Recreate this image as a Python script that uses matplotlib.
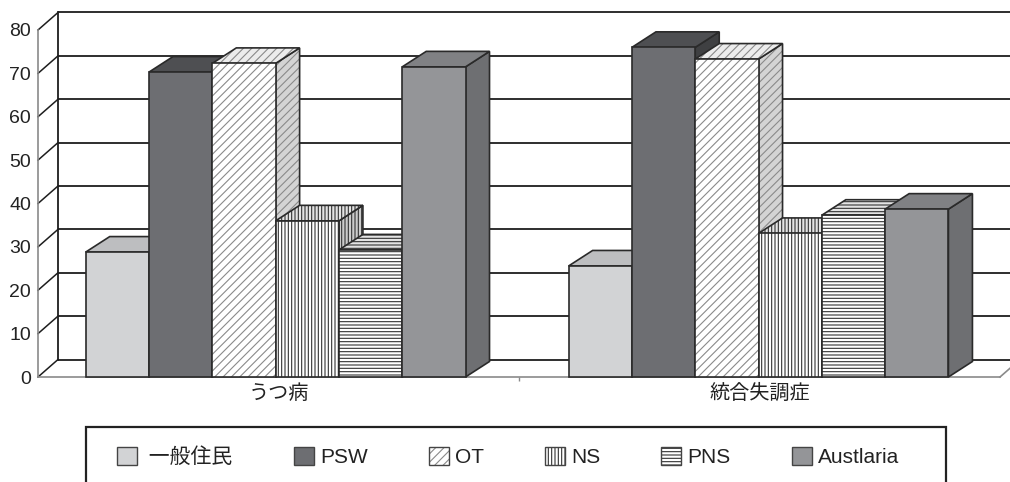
import matplotlib
matplotlib.use("Agg")
import matplotlib.pyplot as plt
from matplotlib.patches import Polygon, Rectangle, Patch

# ---- data -------------------------------------------------------------
categories = ["うつ病", "統合失調症"]
series_names = [" 一般住民", "PSW", "OT", "NS", "PNS", "Austlaria"]
general_public = [28.8, 25.6]
psw = [70.3, 76.0]
ot = [72.3, 73.3]
ns = [36.0, 33.1]
pns = [29.3, 37.3]
austlaria = [71.5, 38.7]
y_ticks = [0, 10, 20, 30, 40, 50, 60, 70, 80]

series_values = [general_public, psw, ot, ns, pns, austlaria]

# ---- styles: (front, top, side, hatch, hatch colour) ------------------
styles = [
    ("#d2d3d5", "#bdbec0", "#a7a8aa", None, None),
    ("#6d6e72", "#4e4f52", "#3f4042", None, None),
    ("#ffffff", "#ececec", "#d4d4d4", "////", "#8a8a8a"),
    ("#ffffff", "#e4e4e4", "#cccccc", "|||||", "#333333"),
    ("#ffffff", "#e4e4e4", "#cccccc", "-----", "#333333"),
    ("#949598", "#808184", "#6e6f72", None, None),
]
EDGE = "#2a2a2a"
GRID = "#1e1e1e"

plt.rcParams["font.family"] = ["Liberation Sans", "Noto Sans CJK JP"]
plt.rcParams["hatch.linewidth"] = 0.8

W, H = 1010, 482
fig = plt.figure(figsize=(W / 100, H / 100), dpi=100)
ax = fig.add_axes([38 / W, 105 / H, 962 / W, 347 / H])
ax.set_xlim(0, 2)
ax.set_ylim(0, 80)
for s in ax.spines.values():
    s.set_visible(False)


def depth(dx_px, dy_px):
    """Convert a screen-space depth offset (pixels) to data units."""
    p = ax.transData.transform([(0, 0)])[0]
    q = ax.transData.inverted().transform([(p[0] + dx_px, p[1] + dy_px)])[0]
    return q[0], q[1]


wdx, wdy = depth(20, 17.5)   # floor / side-wall depth
bdx, bdy = depth(24, 15.5)   # column depth

# ---- walls and floor --------------------------------------------------
for t in y_ticks:
    ax.plot([wdx, 2 + wdx + 0.2], [t + wdy, t + wdy], color=GRID, lw=1.3,
            clip_on=False, zorder=1, solid_capstyle="butt")
    ax.plot([0, wdx], [t, t + wdy], color=GRID, lw=1.1, clip_on=False, zorder=1)
ax.plot([wdx, wdx], [wdy, 80 + wdy], color=GRID, lw=1.3, clip_on=False, zorder=1)
ax.plot([0, 0], [0, 80], color="#8a8a8a", lw=1.2, clip_on=False, zorder=1)
ax.plot([0, 2], [0, 0], color="#8a8a8a", lw=1.2, clip_on=False, zorder=1)
ax.plot([2, 2 + wdx], [0, wdy], color="#8a8a8a", lw=1.2, clip_on=False, zorder=1)

# ---- columns ----------------------------------------------------------
n = len(series_values)
bw = 0.1316
group_shift = [-0.006, -0.002]
z = 2
for ci in range(len(categories)):
    left = ci + 0.5 + group_shift[ci] - n * bw / 2
    for si, vals in enumerate(series_values):
        h = vals[ci]
        x0 = left + si * bw
        front, top, side, hatch, hcol = styles[si]
        faces = [
            (side, [(x0 + bw, 0), (x0 + bw + bdx, bdy), (x0 + bw + bdx, h + bdy), (x0 + bw, h)]),
            (top, [(x0, h), (x0 + bw, h), (x0 + bw + bdx, h + bdy), (x0 + bdx, h + bdy)]),
            (front, [(x0, 0), (x0 + bw, 0), (x0 + bw, h), (x0, h)]),
        ]
        for fc, pts in faces:
            if hatch:
                ax.add_patch(Polygon(pts, closed=True, facecolor=fc, edgecolor=hcol,
                                     lw=0, hatch=hatch, clip_on=False, zorder=z))
            else:
                ax.add_patch(Polygon(pts, closed=True, facecolor=fc, edgecolor="none",
                                     clip_on=False, zorder=z))
            ax.add_patch(Polygon(pts, closed=True, fill=False, edgecolor=EDGE,
                                 lw=1.2, joinstyle="miter", clip_on=False, zorder=z + 0.5))
            z += 1

# ---- axes text --------------------------------------------------------
ax.set_yticks(y_ticks)
ax.set_yticklabels([str(t) for t in y_ticks])
ax.tick_params(axis="y", length=0, pad=5, labelsize=14, labelcolor="#222222")
ax.set_xticks([0.5, 1.5])
ax.set_xticklabels(categories)
ax.tick_params(axis="x", which="major", length=0, pad=5, labelsize=14.5,
               labelcolor="#222222")
ax.set_xticks([1.0], minor=True)
ax.tick_params(axis="x", which="minor", length=3, width=1, color="#8a8a8a",
               direction="out")

# ---- legend -----------------------------------------------------------
handles = []
for si, name in enumerate(series_names):
    front, top, side, hatch, hcol = styles[si]
    if hatch:
        fill = Patch(facecolor=front, edgecolor=hcol, lw=0, hatch=hatch)
    else:
        fill = Patch(facecolor=front, edgecolor="none")
    outline = Patch(fill=False, edgecolor="#444444", lw=1.0)
    handles.append((fill, outline))

fig.legend(handles, series_names, ncol=6, loc="upper left",
           bbox_to_anchor=(117 / W, 1 - 447 / H), frameon=False,
           borderpad=0, borderaxespad=0, handlelength=0.96, handleheight=0.96,
           handletextpad=0.3, columnspacing=2.93, fontsize=15,
           labelcolor="#222222")

fig.add_artist(Rectangle((86 / W, -0.05), (946 - 86) / W, (482 - 427) / H + 0.05,
                         transform=fig.transFigure, fill=False,
                         edgecolor="#222222", lw=1.6))

fig.savefig("out.png", dpi=100)
